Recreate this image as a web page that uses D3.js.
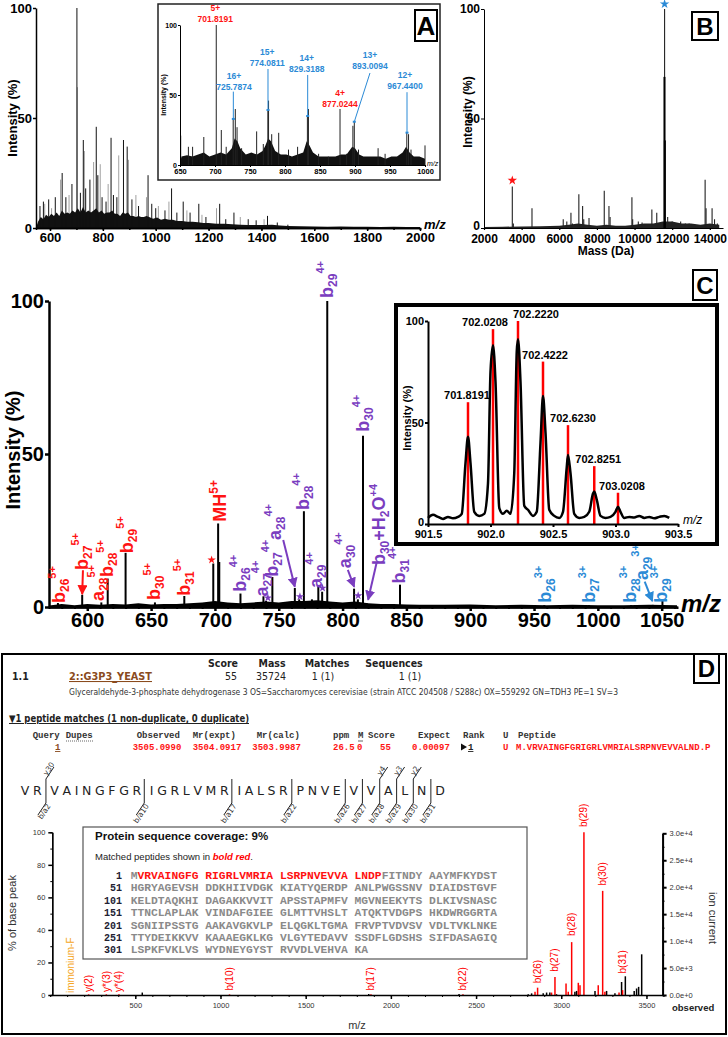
<!DOCTYPE html>
<html>
<head>
<meta charset="utf-8">
<script src="https://cdn.jsdelivr.net/npm/d3@7"></script>
<style>
  body { margin: 0; background: #fff; }
  svg { display: block; font-family: 'Liberation Sans', Arial, sans-serif; }
</style>
</head>
<body>
<svg id="fig" width="728" height="1037"></svg>
<script>
// ---------------- data ----------------

// A: full scan, [m/z, % intensity]
const scanPeaks = [[562,10],[575,12],[595,13],[620,14],[646,25],[660,14],[683,20],[701.8,100],[715,16],[726,40],[735,18],[751,22],
  [775,46],[781,24],[797,14],[812,12],[831,41],[840,15],[853,14],[878,40],[892,37],[910,13],[935,10],[971,24],[985,11],[1000,9],
  [1035,8],[1060,18],[1080,7],[1104,12],[1130,7],[1163,11],[1190,5],[1242,11],[1265,4],[1296,7],[1350,4],[1380,3.5],[1423,5.5],[1460,2.5],[1500,1.5]];
const scanPeaksGrey = [[580,11],[606,9],[640,22],[672,15],[703.5,64],[730,35],[765,30],[790,29],[820,20],[860,33],[897,31],
  [925,15],[965,14],[1010,10],[1050,12],[1118,8],[1175,6],[1230,9],[1320,5],[1410,4]];
const scanBaseline = [[547,0],[555,3],[565,5],[575,4],[585,6],[595,5],[605,6.5],[615,5.5],[625,7],[635,5.5],[645,8],[655,6.5],
  [665,7],[675,6.5],[685,8],[695,7],[705,9],[715,7],[725,9.5],[735,7],[745,8],[755,7],[765,8],[775,9],[785,7],[795,8],
  [805,6.5],[815,7],[825,7],[835,8],[845,6.5],[855,6.5],[865,5.5],[875,7],[885,6.5],[895,7],[905,5.5],[915,5.5],[925,5],[935,5.5],
  [945,5],[955,5],[965,5.5],[975,5],[990,4.2],[1005,4.8],[1020,3.8],[1035,4.2],[1050,3.7],[1065,3.7],[1080,3.2],[1100,3.2],[1120,2.8],
  [1140,2.8],[1160,2.6],[1180,2.3],[1200,2.3],[1230,1.9],[1260,1.9],[1290,1.7],[1320,1.5],[1350,1.4],[1380,1.4],[1410,1.4],[1440,1.5],
  [1470,1.1],[1500,0.9],[1550,0.8],[1600,0.7],[1650,0.6],[1700,0.7],[1750,0.6],[1800,0.6],[1850,0.5],[1900,0.6],[1950,0.5],[2000,0.5]];

// A inset: zoom 650-1000
const insetPeaks = [[651,21],[662,13],[668,13],[684,20],[701.8,100],[709,25],[716,13],[726,33],[729,40],[731.5,27],[738,12],
  [759.5,24],[769,15],[775.5,39],[776.5,46],[781,22],[791,23],[805,11],[818,13],[832,35],[833.5,40],[848,8],[862,6],[878.6,40],
  [888,8],[897,28],[899,31],[905,11],[933,12],[943,8],[974,23],[976.5,22],[980,11],[1000,14]];
const insetBaseline = [[650,0],[652,6],[660,7],[668,6],[676,7.5],[684,9],[692,6],[700,7.5],[708,9],[716,7.5],[724,12],[728,19],[732,17],
  [736,12],[744,7.5],[752,9],[760,7.5],[768,10],[772,14],[776,19],[780,17],[786,10],[794,7.5],[802,7.5],[810,6],[818,7.5],[826,9],[831,17],
  [835,14],[840,9],[848,6],[856,6],[864,6],[872,6],[880,7.5],[888,7.5],[896,13],[900,12],[906,7.5],[912,6],[920,6],[928,6],[936,6],
  [944,4.5],[952,6],[960,6],[968,9],[973,13],[978,9],[984,6],[992,6],[1000,4.5]];
const insetCharges = ["5+","16+","15+","14+","4+","13+","12+"];
const insetMz = ["701.8191","725.7874","774.0811","829.3188","877.0244","893.0094","967.4400"];
const insetLabelAt = [[700.4,102],[727,53.4],[774.7,70.9],[831,66.4],[878.6,41.2],[921.4,68.8],[971.4,54.3]];
const insetLeaders = [null,[[726.2,52.4],[726.2,32.9]],[[775.7,68.6],[775.7,39.3]],[[832.4,64.3],[832.4,35]],null,
  [[921.4,65.7],[899,30.9]],[[974.3,52],[974.3,23.1]]];

// B: deconvoluted masses, [Da, %]
const massPeaks = [[3504,19],[3560,2],[4550,9],[6210,4],[6400,3],[6620,7],[6700,2],[7040,15.4],[7240,10],[7300,4],[7580,4.6],
  [8390,17],[8640,10],[8700,5],[9860,14],[9900,4],[10200,3],[10400,2.5],[10920,8.4],[11180,7],[11596,100],[11760,5],[12000,3],
  [12450,3],[12700,2],[12900,2],[13750,22],[13800,9],[14120,9],[14250,4],[14400,2]];
const massPeaksBold = [[11590,69],[11610,40]];
const massBaseline = [[2000,0.5],[3000,0.6],[4000,0.7],[5000,0.8],[6000,1],[6500,1.5],[7000,2],[7500,1.5],[8000,1],[8500,1.5],
  [9000,1],[9500,1],[10000,1.5],[10500,2],[11000,2],[11500,3],[12000,3],[12500,2],[13000,2],[13500,1.5],[14000,2],[14500,1.5]];

// C: top-down MS/MS, [m/z, %]
const msmsPeaks = [[577,1.3],[596,4],[611,1.5],[616,9.3],[630,17.7],[653,1.5],[676,3.6],[698.7,14.2],[702.5,27.3],[703.4,14.7],
  [720,4.4],[738,3.5],[740,2],[745,9.8],[762.6,6.2],[766,2.5],[769.7,31.3],[776,2.5],[781,7],[784,5],[788,100],[809,6],[812,2.5],
  [816,56],[819,1.2],[845,7.3],[958,0.6],[993,0.6],[1026,0.6],[1043,0.7],[1050.6,2.2]];
const msmsBaseline = [[570,0.5],[580,1],[590,0.6],[600,1],[610,0.7],[620,1],[630,0.8],[640,1.2],[650,0.8],[660,1],[670,1],
  [680,1.2],[690,1.5],[700,2],[710,1.5],[720,1.2],[730,1.5],[740,1.8],[750,1.5],[760,2],[770,2],[780,2.2],[790,1.8],[800,1.5],
  [810,1.8],[820,1.2],[830,1],[840,1],[850,0.8],[860,0.7],[880,0.7],[900,0.8],[920,0.6],[940,0.7],[960,0.6],[980,0.7],[1000,0.6],
  [1020,0.6],[1040,0.7],[1062,0.6]];
const ionLabels = [
  {t:"b|26|5+", mz:578.6, at:1.3, c:"red"}, {t:"b|27|5+", mz:596.6, at:12.1, c:"red"}, {t:"a|28|5+", mz:609.2, at:2, c:"red"},
  {t:"b|28|5+", mz:616.2, at:9.8, c:"red"}, {t:"b|29|5+", mz:631.9, at:17.6, c:"red"}, {t:"b|30|5+", mz:653, at:2.3, c:"red"},
  {t:"b|31|5+", mz:676.5, at:3.7, c:"red"}, {t:"MH||5+", mz:704.5, at:27.9, c:"red"},
  {t:"b|26|4+", mz:720.1, at:5, c:"purple"}, {t:"a|27|4+", mz:737.6, at:3.4, c:"purple"}, {t:"b|27|4+", mz:745.2, at:9.9, c:"purple"},
  {t:"a|28|4+", mz:747.8, at:21.9, c:"purple"}, {t:"b|28|4+", mz:769.9, at:31.7, c:"purple"}, {t:"a|29|4+", mz:779.6, at:6.2, c:"purple"},
  {t:"b|29|4+", mz:788.7, at:101, c:"purple"}, {t:"a|30|4+", mz:802.6, at:12.7, c:"purple"}, {t:"b|30|4+", mz:816.9, at:57.3, c:"purple"},
  {t:"b|31|4+", mz:844.9, at:7.7, c:"purple"},
  {t:"b|26|3+", mz:959.2, at:1.4, c:"blue"}, {t:"b|27|3+", mz:993.7, at:1.4, c:"blue"}, {t:"b|28|3+", mz:1026.3, at:1.4, c:"blue"},
  {t:"a|29|3+", mz:1035.4, at:8.8, c:"blue"}, {t:"b|29|3+", mz:1050.6, at:1.4, c:"blue"}];
const ionArrows = [
  {from:[596.6,12], to:[596,4.2], c:"red"}, {from:[753.5,21.9], to:[762.6,6.6], c:"purple"},
  {from:[804.1,12.1], to:[809.1,6.6], c:"purple"}, {from:[826.6,14.4], to:[820,2.4], c:"purple"},
  {from:[1036.7,8.3], to:[1042.7,1.9], c:"blue"}];
const ionStars = [{mz:697.4, at:15.4, c:"red"}, {mz:741.5, at:3, c:"purple"}, {mz:766.6, at:3.4, c:"purple"},
  {mz:784.3, at:6.2, c:"purple"}, {mz:812.2, at:3.7, c:"purple"}];

// C inset: isotope envelope of MH5+
const isoProfile = [[901.50,3],[901.54,4.5],[901.58,3.5],[901.62,2.5],[901.66,3.5],[901.70,2.8],[901.74,3.5],[901.77,5],[901.80,30],
  [901.82,43],[901.84,30],[901.87,6],[901.91,4],[901.95,5],[901.98,20],[902.00,75],[902.02,88],[902.04,70],[902.07,8],[902.10,5],
  [902.13,6.5],[902.16,5],[902.19,25],[902.21,85],[902.22,91],[902.24,70],[902.27,9],[902.30,7],[902.34,4],[902.37,6],[902.40,40],
  [902.42,63],[902.44,45],[902.47,7],[902.51,4],[902.55,3],[902.58,6],[902.61,28],[902.62,34],[902.64,25],[902.67,5],[902.71,3],
  [902.75,3.5],[902.79,6],[902.82,15],[902.83,16],[902.85,12],[902.88,4],[902.92,3],[902.96,3.5],[903.00,6],[903.02,8.5],[903.04,6],
  [903.07,3],[903.11,3.5],[903.15,3.2],[903.19,4],[903.23,3],[903.27,3.5],[903.31,2.8],[903.35,3.5],[903.39,4],[903.43,3]];
const isoTheory = [[901.82,60],[902.02,96],[902.22,100],[902.42,80],[902.62,48.7],[902.83,28.5],[903.02,15.4]];
const isoLabels = ["701.8191","702.0208","702.2220","702.4222","702.6230","702.8251","703.0208"];

// D: Mascot result
const hitHeaders = ["Score","Mass","Matches","Sequences"];
const hitValues = ["55","35724","1 (1)","1 (1)"];
const hitDesc = "Glyceraldehyde-3-phosphate dehydrogenase 3 OS=Saccharomyces cerevisiae (strain ATCC 204508 / S288c) OX=559292 GN=TDH3 PE=1 SV=3";
const queryHeaders = ["Query","Dupes","Observed","Mr(expt)","Mr(calc)","ppm","M","Score","Expect","Rank","U","Peptide"];
const queryValues = ["1","","3505.0990","3504.0917","3503.9987","26.5","0","55","0.00097","1","U","M.VRVAINGFGRIGRLVMRIALSRPNVEVVALND.P"];
const peptideSeq = "VRVAINGFGRIGRLVMRIALSRPNVEVVALND";
const bIons = [2,10,17,22,26,27,28,29,30,31];
const yIons = [30,4,3,2];
const matchedIons = [[226,0.4],[330,0.4],[404,0.4],[1053,0.4],[1883,0.4],[2423,0.4],[2846,2],[2861,4.5],[2943,1.5],[2963,11],
  [3028,7],[3041,2],[3061,32.5],[3100,7.5],[3110,6],[3133,100],[3217,6],[3243,64],[3256,2],[3339,1.5],[3360,3]];
const otherIons = [[541,1.5],[1870,0.6],[2400,0.6],[2806,0.5],[2826,1],[2894,1],[2914,1.5],[2933,1.5],[2972,0.5],[3080,2],[3090,2.5],
  [3198,2.5],[3266,2.5],[3315,1],[3354,8],[3376,11.5],[3428,2.5],[3442,4],[3454,5],[3472,25]];
const ionNames = ["y(2)","y*(3)","y*(4)","b(10)","b(17)","b(22)","b(26)","b(27)","b(28)","b(29)","b(30)","b(31)"];
const ionNameMz = [226,330,404,1053,1883,2423,2861,2963,3061,3133,3243,3358];
const ionNameAt = [0.6,0.6,0.6,1.5,1.5,1.5,6,13,35,102,66,12];
const coverageStart = [1,51,101,151,201,251,301];
const coverageRows = [
  "MVRVAINGFG RIGRLVMRIA LSRPNVEVVA LNDPFITNDY AAYMFKYDST",
  "HGRYAGEVSH DDKHIIVDGK KIATYQERDP ANLPWGSSNV DIAIDSTGVF",
  "KELDTAQKHI DAGAKKVVIT APSSTAPMFV MGVNEEKYTS DLKIVSNASC",
  "TTNCLAPLAK VINDAFGIEE GLMTTVHSLT ATQKTVDGPS HKDWRGGRTA",
  "SGNIIPSSTG AAKAVGKVLP ELQGKLTGMA FRVPTVDVSV VDLTVKLNKE",
  "TTYDEIKKVV KAAAEGKLKG VLGYTEDAVV SSDFLGDSHS SIFDASAGIQ",
  "LSPKFVKLVS WYDNEYGYST RVVDLVEHVA KA"];
const matchedRange = [2, 34];

// ---------------- helpers ----------------
const SANS = "'Liberation Sans', Arial, sans-serif";
const MONO = "'Liberation Mono', 'DejaVu Sans Mono', monospace";
const NARROW = "'Liberation Sans Narrow', 'DejaVu Sans Condensed', sans-serif";
const colors = {red: "#ff1414", purple: "#7a3dbf", blue: "#2b8ad6"};
const plain = d3.format("d");
const svg = d3.select("#fig");

function sticks(g, data, x, y, color, w) {
  g.selectAll(null).data(data).enter().append("line")
    .attr("x1", d => x(d[0])).attr("x2", d => x(d[0]))
    .attr("y1", y(0)).attr("y2", d => y(d[1]))
    .attr("stroke", color).attr("stroke-width", w);
}
function baseline(g, data, x, y, color) {
  g.append("path").datum(data)
    .attr("d", d3.area().x(d => x(d[0])).y0(y(0)).y1(d => y(d[1])))
    .attr("fill", color);
}
function axis(g, ax, tx, ty, fs, sw, weight) {
  const a = g.append("g").attr("transform", `translate(${tx},${ty})`).call(ax)
    .attr("font-family", SANS).attr("font-size", fs).attr("font-weight", weight || "bold");
  a.select(".domain").attr("stroke-width", sw);
  a.selectAll(".tick line").attr("stroke-width", sw);
  a.selectAll("text").attr("fill", "#000");
  return a;
}
function boxLabel(letter, x, y, w, h, fs) {
  svg.append("rect").attr("x", x).attr("y", y).attr("width", w).attr("height", h)
    .attr("fill", "#fff").attr("stroke", "#000").attr("stroke-width", 2);
  svg.append("text").attr("x", x + w / 2).attr("y", y + h / 2).attr("dy", "0.36em")
    .attr("text-anchor", "middle").attr("font-size", fs).attr("font-weight", "bold").text(letter);
}
function yTitle(g, x, y, fs, text) {
  g.append("text").attr("transform", `translate(${x},${y}) rotate(-90)`)
    .attr("text-anchor", "middle").attr("font-size", fs).attr("font-weight", "bold").text(text);
}

// arrow heads
const defs = svg.append("defs");
Object.keys(colors).forEach(k => {
  defs.append("marker").attr("id", "arr-" + k).attr("viewBox", "0 0 10 10").attr("refX", 9).attr("refY", 5)
    .attr("markerWidth", 5).attr("markerHeight", 5).attr("orient", "auto")
    .append("path").attr("d", "M0,0L10,5L0,10z").attr("fill", colors[k]);
});

// ================= Panel A =================
const gA = svg.append("g");
const xA = d3.scaleLinear().domain([547, 2000]).range([36, 420]);
const yA = d3.scaleLinear().domain([0, 100]).range([228, 8]);
sticks(gA, scanPeaksGrey, xA, yA, "#a0a0a0", 1);
baseline(gA, scanBaseline, xA, yA, "#111");
sticks(gA, scanPeaks, xA, yA, "#111", 1);
axis(gA, d3.axisBottom(xA).tickValues(d3.range(600, 2001, 100)).tickSize(2).tickFormat(""), 0, 228, 13, 1.5);
axis(gA, d3.axisBottom(xA).tickValues(d3.range(600, 2001, 200)).tickFormat(plain).tickSize(3).tickPadding(2).tickSizeOuter(0), 0, 228, 13, 1.5);
axis(gA, d3.axisLeft(yA).tickValues([0, 50, 100]).tickSize(3).tickPadding(1).tickSizeOuter(0), 36, 0, 13, 1.5);
yTitle(gA, 17, 118, 13, "Intensity (%)");
gA.append("text").attr("x", 424).attr("y", 229).attr("font-size", 13).attr("font-weight", "bold")
  .attr("font-style", "italic").text("m/z");

// inset
const gAi = svg.append("g");
gAi.append("rect").attr("x", 158).attr("y", 4).attr("width", 282).attr("height", 176)
  .attr("fill", "#fff").attr("stroke", "#222").attr("stroke-width", 1.5);
const xAi = d3.scaleLinear().domain([650, 1000]).range([180, 425]);
const yAi = d3.scaleLinear().domain([0, 100]).range([165, 25]);
baseline(gAi, insetBaseline, xAi, yAi, "#111");
sticks(gAi, insetPeaks, xAi, yAi, "#222", 1);
axis(gAi, d3.axisBottom(xAi).tickValues(d3.range(650, 1001, 50)).tickFormat(plain).tickSize(2).tickPadding(2).tickSizeOuter(0), 0, 165, 7.5, 1);
axis(gAi, d3.axisLeft(yAi).tickValues([0, 50, 100]).tickSize(2).tickPadding(1).tickSizeOuter(0), 180, 0, 7, 1);
yTitle(gAi, 166, 95, 7, "Intensity (%)");
gAi.append("text").attr("x", 427).attr("y", 166).attr("font-size", 7).attr("font-style", "italic").text("m/z");
insetMz.forEach((lab, i) => {
  const c = (i === 0 || i === 4) ? colors.red : colors.blue;
  const [lx, ly] = insetLabelAt[i];
  const t = gAi.append("g").attr("fill", c).attr("font-size", 8.5).attr("font-weight", "bold").attr("text-anchor", "middle");
  t.append("text").attr("x", xAi(lx)).attr("y", yAi(ly) - 11).text(insetCharges[i]);
  t.append("text").attr("x", xAi(lx)).attr("y", yAi(ly)).text(lab);
  const ld = insetLeaders[i];
  if (ld) {
    gAi.append("line").attr("x1", xAi(ld[0][0])).attr("y1", yAi(ld[0][1]))
      .attr("x2", xAi(ld[1][0])).attr("y2", yAi(ld[1][1])).attr("stroke", colors.blue).attr("stroke-width", 1);
    gAi.append("rect").attr("x", xAi(ld[1][0]) - 1.5).attr("y", yAi(ld[1][1]) - 1)
      .attr("width", 3).attr("height", 2).attr("fill", colors.blue);
  }
});
boxLabel("A", 415, 10, 22, 31, 26);

// ================= Panel B =================
const gB = svg.append("g");
const xB = d3.scaleLinear().domain([2000, 14700]).range([484, 723]);
const yB = d3.scaleLinear().domain([0, 100]).range([228, 9]);
baseline(gB, massBaseline, xB, yB, "#222");
sticks(gB, massPeaks, xB, yB, "#222", 1.1);
sticks(gB, massPeaksBold, xB, yB, "#000", 2);
axis(gB, d3.axisBottom(xB).tickValues(d3.range(2000, 14001, 2000)).tickFormat(plain).tickSize(2).tickPadding(4).tickSizeOuter(0), 0, 228, 12, 1.2);
axis(gB, d3.axisLeft(yB).tickValues([0, 50, 100]).tickSize(3).tickPadding(1).tickSizeOuter(0), 484, 0, 12, 1);
gB.selectAll("text").filter(function () { return this.textContent === "0"; }).attr("dy", "0.1em");
yTitle(gB, 472, 112, 12, "Intensity (%)");
gB.append("text").attr("x", 606).attr("y", 255).attr("text-anchor", "middle")
  .attr("font-size", 12).attr("font-weight", "bold").text("Mass (Da)");
const star = d3.symbol().type(d3.symbolStar).size(28);
gB.append("path").attr("d", star).attr("fill", colors.red).attr("transform", `translate(${xB(3504)},${yB(19) - 6})`);
gB.append("path").attr("d", star).attr("fill", colors.blue).attr("transform", `translate(${xB(11596)},${yB(100) - 5})`);
boxLabel("B", 692, 12, 26, 28, 24);

// ================= Panel C =================
const gC = svg.append("g");
const xC = d3.scaleLinear().domain([570, 1062]).range([49, 677]);
const yC = d3.scaleLinear().domain([0, 100]).range([607, 301]);
baseline(gC, msmsBaseline, xC, yC, "#000");
sticks(gC, msmsPeaks, xC, yC, "#000", 2);
axis(gC, d3.axisBottom(xC).tickValues(d3.range(580, 1061, 10)).tickSize(2).tickFormat(""), 0, 607, 20, 2);
axis(gC, d3.axisBottom(xC).tickValues(d3.range(600, 1051, 50)).tickFormat(plain).tickSize(4).tickPadding(2).tickSizeOuter(0), 0, 607, 20, 2.5);
axis(gC, d3.axisLeft(yC).tickValues([0, 50, 100]).tickSize(4).tickPadding(1).tickSizeOuter(0), 49, 0, 20, 2.5);
yTitle(gC, 20, 450, 20, "Intensity (%)");
gC.append("text").attr("x", 681).attr("y", 612).attr("font-size", 24).attr("font-weight", "bold")
  .attr("font-style", "italic").text("m/z");

ionLabels.forEach(d => {
  const [ion, sub, sup] = d.t.split("|");
  const t = gC.append("text").attr("transform", `translate(${xC(d.mz) + 5},${yC(d.at)}) rotate(-90)`)
    .attr("fill", colors[d.c]).attr("font-weight", "bold").attr("font-size", 18);
  t.append("tspan").text(ion);
  if (sub) {
    t.append("tspan").attr("dy", 4).attr("font-size", 12).text(sub);
    t.append("tspan").attr("dy", -13).attr("font-size", 11).text(sup);
  } else {
    t.append("tspan").attr("dy", -8).attr("font-size", 12).text(sup);
  }
});
// b30 + H2O label
{
  const t = gC.append("text").attr("transform", `translate(${xC(829.2) + 5},${yC(13.7)}) rotate(-90)`)
    .attr("fill", colors.purple).attr("font-weight", "bold").attr("font-size", 18);
  t.append("tspan").text("b");
  t.append("tspan").attr("dy", 4).attr("font-size", 12).text("30");
  t.append("tspan").attr("dy", -4).text("+H");
  t.append("tspan").attr("dy", 4).attr("font-size", 12).text("2");
  t.append("tspan").attr("dy", -4).text("O");
  t.append("tspan").attr("dy", -8).attr("font-size", 11).text("+4");
}
ionArrows.forEach(d => {
  gC.append("line").attr("x1", xC(d.from[0])).attr("y1", yC(d.from[1]))
    .attr("x2", xC(d.to[0])).attr("y2", yC(d.to[1]))
    .attr("stroke", colors[d.c]).attr("stroke-width", 2).attr("marker-end", `url(#arr-${d.c})`);
});
const smallStar = d3.symbol().type(d3.symbolStar).size(22);
ionStars.forEach(d => {
  gC.append("path").attr("d", smallStar).attr("fill", colors[d.c])
    .attr("transform", `translate(${xC(d.mz)},${yC(d.at)})`);
});

// inset
const gCi = svg.append("g");
gCi.append("rect").attr("x", 396).attr("y", 305).attr("width", 321).attr("height", 239)
  .attr("fill", "#fff").attr("stroke", "#000").attr("stroke-width", 4);
const xCi = d3.scaleLinear().domain([901.5, 903.5]).range([428, 678]);
const yCi = d3.scaleLinear().domain([0, 100]).range([524, 321]);
sticks(gCi, isoTheory, xCi, yCi, "#ff0000", 2.5);
gCi.append("path").datum(isoProfile)
  .attr("d", d3.line().x(d => xCi(d[0])).y(d => yCi(d[1])).curve(d3.curveMonotoneX))
  .attr("fill", "none").attr("stroke", "#000").attr("stroke-width", 2.5);
axis(gCi, d3.axisBottom(xCi).tickValues(d3.range(901.5, 903.51, 0.5)).tickFormat(d3.format(".1f"))
  .tickSize(3).tickPadding(3).tickSizeOuter(0), 0, 524, 11, 2);
axis(gCi, d3.axisLeft(yCi).tickValues([0, 50, 100]).tickSize(3).tickPadding(1).tickSizeOuter(0), 428, 0, 11, 2);
gCi.selectAll("text").filter(function () { return this.textContent === "0"; }).attr("dy", "0.1em");
yTitle(gCi, 411, 418, 11, "Intensity (%)");
gCi.append("text").attr("x", 683).attr("y", 524).attr("font-size", 12).attr("font-style", "italic").text("m/z");
const isoNudge = [-1, -8, 18, 2, 5, 4, 4];
isoTheory.forEach((d, i) => {
  gCi.append("text").attr("x", xCi(d[0]) + isoNudge[i]).attr("y", yCi(d[1]) - 3)
    .attr("text-anchor", "middle").attr("font-size", 11).attr("font-weight", "bold").text(isoLabels[i]);
});
boxLabel("C", 693, 270, 24, 30, 24);

// ================= Panel D =================
const gD = svg.append("g");
gD.append("rect").attr("x", 2).attr("y", 654).attr("width", 724).attr("height", 380)
  .attr("fill", "#fff").attr("stroke", "#000").attr("stroke-width", 2);

// protein hit header
const hdrX = [223, 272, 327, 394], valX = [231, 271, 323, 410];
hitHeaders.forEach((h, i) => gD.append("text").attr("x", hdrX[i]).attr("y", 667).attr("text-anchor", "middle")
  .attr("font-family", NARROW).attr("font-size", 10.5).attr("font-weight", "bold").attr("fill", "#222").text(h));
hitValues.forEach((h, i) => gD.append("text").attr("x", valX[i]).attr("y", 680).attr("text-anchor", "middle")
  .attr("font-family", NARROW).attr("font-size", 10.5).attr("fill", "#222").text(h));
gD.append("text").attr("x", 12).attr("y", 680).attr("font-family", NARROW).attr("font-size", 10.5)
  .attr("font-weight", "bold").attr("fill", "#222").text("1.1");
gD.append("text").attr("x", 69).attr("y", 680).attr("font-family", NARROW).attr("font-size", 10.5)
  .attr("font-weight", "bold").attr("fill", "#8a4b1e").attr("text-decoration", "underline")
  .attr("textLength", 83).attr("lengthAdjust", "spacingAndGlyphs").text("2::G3P3_YEAST");
gD.append("text").attr("x", 69).attr("y", 695).attr("font-family", NARROW).attr("font-size", 8)
  .attr("fill", "#333").attr("textLength", 549).attr("lengthAdjust", "spacingAndGlyphs").text(hitDesc);
gD.append("text").attr("x", 9).attr("y", 722).attr("font-family", NARROW).attr("font-size", 10)
  .attr("font-weight", "bold").attr("fill", "#222").attr("text-decoration", "underline")
  .attr("textLength", 240).attr("lengthAdjust", "spacingAndGlyphs").text("\u25BC1 peptide matches (1 non-duplicate, 0 duplicate)");

// query table
const qhX = [32.7, 65.7, 136.7, 192.7, 256.7, 333, 358, 368, 418, 463, 503, 518];
const qvX = [55, 0, 132.7, 192.7, 252.3, 333, 357, 380, 412, 468, 503, 516];
queryHeaders.forEach((h, i) => gD.append("text").attr("x", qhX[i]).attr("y", 738)
  .attr("font-family", MONO).attr("font-size", 9).attr("font-weight", "bold").attr("fill", "#333").text(h));
gD.append("line").attr("x1", 66).attr("x2", 93).attr("y1", 741).attr("y2", 741)
  .attr("stroke", "#666").attr("stroke-dasharray", "1,1");
gD.append("line").attr("x1", 358).attr("x2", 363).attr("y1", 741).attr("y2", 741).attr("stroke", "#666");
queryValues.forEach((v, i) => {
  if (!v) return;
  const t = gD.append("text").attr("x", qvX[i]).attr("y", 750).attr("font-family", MONO).attr("font-size", 9)
    .attr("font-weight", "bold").attr("fill", colors.red).text(v);
  if (i === 0 || i === 9) t.attr("text-decoration", "underline").attr("fill", i === 0 ? "#8a4b1e" : "#222");
});
gD.append("path").attr("d", "M461,743.5L467,747L461,750.5z").attr("fill", "#111");

// fragment map of the peptide
const seqG = gD.append("g").attr("font-family", "'DejaVu Sans', Verdana, sans-serif").attr("font-size", 12.5).attr("fill", "#222");
const letters = peptideSeq.split("");
const breaks = new Set(bIons.concat(yIons.map(m => letters.length - m)));
const widths = letters.map(ch => {
  const t = seqG.append("text").text(ch);
  const w = t.node().getComputedTextLength();
  t.remove();
  return w;
});
let cur = 0;
const raw = letters.map((ch, i) => {
  if (i > 0) cur += widths[i - 1] / 2 + widths[i] / 2 + 3.4 + (breaks.has(i) ? 5 : 0);
  return cur;
});
const seqX = d3.scaleLinear().domain([0, raw[raw.length - 1]]).range([25, 440]);
letters.forEach((ch, i) => seqG.append("text").attr("x", seqX(raw[i])).attr("y", 795)
  .attr("text-anchor", "middle").text(ch));
const breakX = n => (seqX(raw[n - 1]) + seqX(raw[n])) / 2;
const mark = gD.append("g").attr("stroke", "#222").attr("fill", "none").attr("stroke-width", 1);
breaks.forEach(n => mark.append("line").attr("x1", breakX(n)).attr("x2", breakX(n)).attr("y1", 779).attr("y2", 803));
bIons.forEach(n => {
  const bx = breakX(n);
  mark.append("line").attr("x1", bx).attr("y1", 803).attr("x2", bx - 8).attr("y2", 815);
  gD.append("text").attr("transform", `translate(${bx + 5},${806}) rotate(-56)`).attr("text-anchor", "end")
    .attr("font-family", "'DejaVu Sans', sans-serif").attr("font-size", 7.5).attr("fill", "#333").text("b/a" + n);
});
yIons.forEach(m => {
  const bx = breakX(letters.length - m);
  mark.append("line").attr("x1", bx).attr("y1", 779).attr("x2", bx + 8).attr("y2", 767);
  gD.append("text").attr("transform", `translate(${bx + 1},${776}) rotate(-56)`)
    .attr("font-family", "'DejaVu Sans', sans-serif").attr("font-size", 7.5).attr("fill", "#333").text("y" + m);
});

// annotated spectrum
const xD = d3.scaleLinear().domain([0, 3600]).range([50.1, 663.5]);
const yD = d3.scaleLinear().domain([0, 100]).range([995, 832.3]);
const yDr = d3.scaleLinear().domain([0, 30000]).range([995, 833.3]);
sticks(gD, otherIons, xD, yD, "#000", 1.5);
sticks(gD, matchedIons, xD, yD, "#ff0000", 1.5);
const tickGrey = a => { a.selectAll("text").attr("fill", "#333"); a.select(".domain").attr("stroke", "#000"); return a; };
axis(gD, d3.axisBottom(xD).tickValues(d3.range(100, 3600, 100)).tickSize(2).tickFormat(""), 0, 995, 7.5, 1);
tickGrey(axis(gD, d3.axisBottom(xD).tickValues(d3.range(500, 3501, 500)).tickFormat(plain).tickSize(4).tickPadding(4).tickSizeOuter(0), 0, 995, 7.5, 1.5, "normal"));
axis(gD, d3.axisLeft(yD).tickValues(d3.range(10, 100, 20)).tickSize(2).tickFormat(""), 52.3, 0, 7.5, 1);
tickGrey(axis(gD, d3.axisLeft(yD).tickValues(d3.range(0, 101, 20)).tickSize(4).tickPadding(3).tickSizeOuter(0), 52.3, 0, 7.5, 1.5, "normal"));
axis(gD, d3.axisRight(yDr).tickValues(d3.range(2500, 30000, 5000)).tickSize(2).tickFormat(""), 662.6, 0, 7.5, 1);
tickGrey(axis(gD, d3.axisRight(yDr).tickValues(d3.range(0, 30001, 5000)).tickFormat(d3.format(".1e"))
  .tickSize(4).tickPadding(3).tickSizeOuter(0), 662.6, 0, 7.5, 2, "normal"));
gD.append("text").attr("transform", "translate(16,913) rotate(-90)").attr("text-anchor", "middle")
  .attr("font-size", 11).attr("fill", "#333").text("% of base peak");
gD.append("text").attr("transform", "translate(709,918) rotate(90)").attr("text-anchor", "middle")
  .attr("font-size", 11).attr("fill", "#333").text("ion current");
gD.append("text").attr("x", 357).attr("y", 1029).attr("text-anchor", "middle").attr("font-size", 11).attr("fill", "#333").text("m/z");
gD.append("text").attr("x", 672).attr("y", 1011).attr("font-size", 9.5).attr("font-weight", "bold").attr("fill", "#222").text("observed");
ionNames.forEach((n, i) => {
  gD.append("text").attr("transform", `translate(${xD(ionNameMz[i]) + 3.5},${yD(ionNameAt[i]) - 2}) rotate(-90)`)
    .attr("font-size", 10).attr("fill", "#ff0000").text(n);
});
gD.append("text").attr("transform", `translate(${xD(120) + 3.5},${yD(1.2)}) rotate(-90)`)
  .attr("font-size", 10).attr("fill", "#f5a623").text("immonium-F");

// sequence coverage box
const gCov = gD.append("g");
gCov.append("rect").attr("x", 83).attr("y", 827).attr("width", 444).attr("height", 132)
  .attr("fill", "#fff").attr("stroke", "#555").attr("stroke-width", 1.2);
gCov.append("text").attr("x", 95).attr("y", 840).attr("font-size", 11.5).attr("font-weight", "bold")
  .attr("fill", "#111").text("Protein sequence coverage: 9%");
const mp = gCov.append("text").attr("x", 95).attr("y", 860).attr("font-size", 9.5).attr("fill", "#222");
mp.append("tspan").text("Matched peptides shown in ");
mp.append("tspan").attr("font-weight", "bold").attr("font-style", "italic").attr("fill", "#ff0000").text("bold red");
mp.append("tspan").text(".");
coverageRows.forEach((row, r) => {
  const y = 879 + r * 12.4;
  gCov.append("text").attr("x", 122).attr("y", y).attr("text-anchor", "end").attr("font-family", MONO)
    .attr("font-size", 10).attr("font-weight", "bold").attr("fill", "#223").text(coverageStart[r]);
  row.split(" ").forEach((grp, gi) => {
    const t = gCov.append("text").attr("x", 130.7 + gi * 74.6).attr("y", y).attr("font-family", MONO)
      .attr("font-size", 11.3).attr("font-weight", "bold");
    grp.split("").forEach((ch, ci) => {
      const res = coverageStart[r] + gi * 10 + ci;
      const hit = res >= matchedRange[0] && res <= matchedRange[1];
      t.append("tspan").attr("fill", hit ? "#ff1010" : "#8a8a8a").text(ch);
    });
  });
});
boxLabel("D", 694, 654, 25, 29, 24);
</script>
</body>
</html>
